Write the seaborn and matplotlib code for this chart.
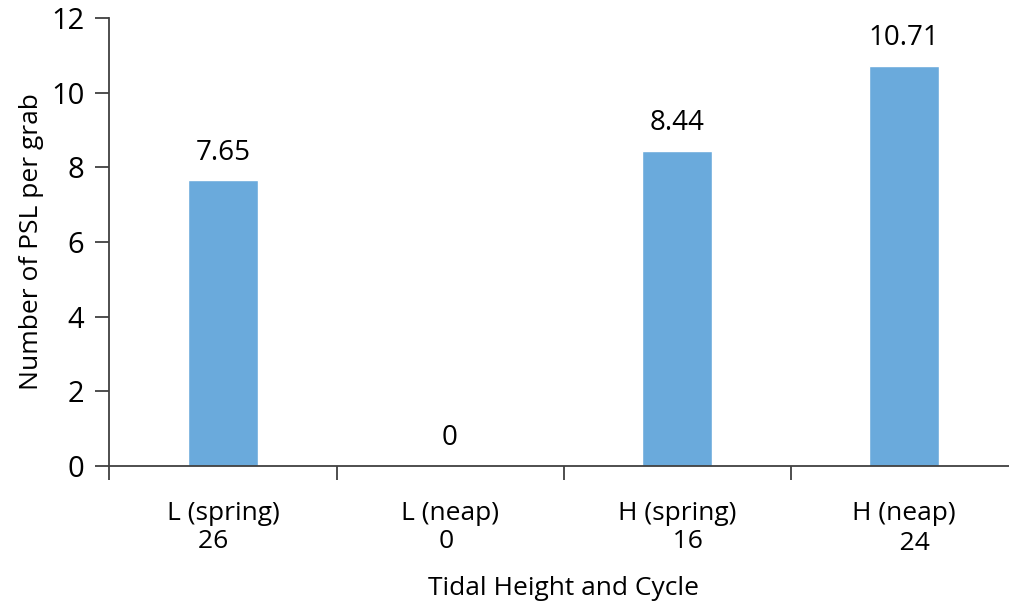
import matplotlib
matplotlib.use("Agg")
import matplotlib.pyplot as plt
import seaborn as sns
import pandas as pd

# Mean number of PSL per grab by tidal height and cycle
categories = ["L (spring)", "L (neap)", "H (spring)", "H (neap)"]
sample_counts = ["26   ", "0 ", "   16", "   24"]
psl_per_grab = [7.65, 0, 8.44, 10.71]
value_labels = ["7.65", "0", "8.44", "10.71"]

sns.set_theme(style="white")
plt.rcParams["font.family"] = ["Open Sans", "DejaVu Sans"]
plt.rcParams["text.color"] = "black"
plt.rcParams["axes.labelcolor"] = "black"
plt.rcParams["xtick.color"] = "black"
plt.rcParams["ytick.color"] = "black"

df = pd.DataFrame({"cycle": categories, "psl": psl_per_grab})

fig = plt.figure(figsize=(10.09, 6.02), dpi=100)
ax = fig.add_axes([0.1085, 0.2259, 0.900, 0.7442])

sns.barplot(data=df, x="cycle", y="psl", color="#6AAADC", saturation=1,
            width=0.31, ax=ax)

ax.set_ylim(0, 12)
ax.set_xlim(-0.5, 3.5)
ax.set_yticks(range(0, 13, 2))

for i, (v, lab) in enumerate(zip(psl_per_grab, value_labels)):
    ax.annotate(lab, (i, v), xytext=(0, 20), textcoords="offset points",
                ha="center", va="center", fontsize=20, color="black")

# category label with sample count on second line
tick_text = [f"{c}\n{n}" for c, n in zip(categories, sample_counts)]
ax.set_xticks(range(len(categories)))
labels = ax.set_xticklabels(tick_text, fontsize=19, linespacing=1.15)
labels[3].set_linespacing(1.3)
ax.set_xticks([-0.5, 0.5, 1.5, 2.5, 3.5], minor=True)
ax.tick_params(axis="x", which="major", length=0, pad=25)
ax.tick_params(axis="x", which="minor", length=10, width=1.3, direction="out",
               color="#404040", bottom=True)
ax.tick_params(axis="y", length=10, width=1.3, direction="out", color="#404040",
               labelsize=21, left=True, pad=8)

for side in ["top", "right"]:
    ax.spines[side].set_visible(False)
for side in ["left", "bottom"]:
    ax.spines[side].set_color("#404040")
    ax.spines[side].set_linewidth(1.3)

ax.set_xlabel("Tidal Height and Cycle", fontsize=19, labelpad=14)
ax.set_ylabel("Number of PSL per grab", fontsize=19, labelpad=5)

fig.savefig("out.png", dpi=100)
